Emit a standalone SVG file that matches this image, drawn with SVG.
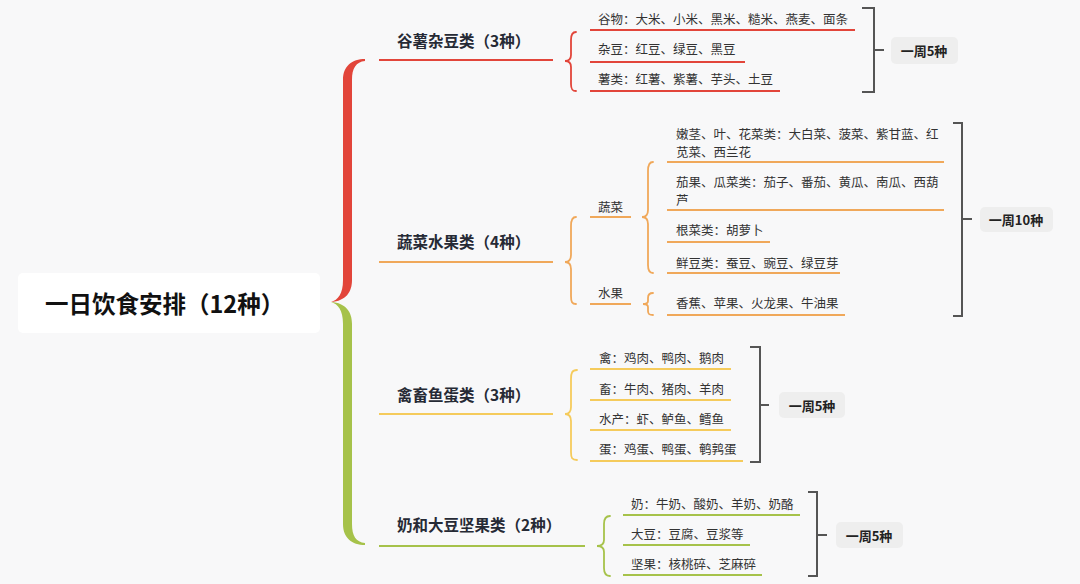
<svg xmlns="http://www.w3.org/2000/svg" width="1080" height="584" viewBox="0 0 1080 584">
<style>
text{font-family:"Noto Sans CJK SC","Noto Sans",sans-serif;dominant-baseline:central}
.root{font-size:23.5px;font-weight:700;fill:#111}
.cat{font-size:15.5px;font-weight:700;fill:#262a35}
.sub{font-size:12.5px;fill:#333}
.sum{font-size:13px;font-weight:700;fill:#222;text-anchor:middle}
.ln{fill:none;stroke-width:2}
.br{fill:none;stroke-width:1.8;stroke-linecap:round}
.bk{fill:none;stroke:#555;stroke-width:2}
.box{fill:#eeeeee}
.r{stroke:#e2453a}
.o{stroke:#f0a85a}
.y{stroke:#f5cb5c}
.g{stroke:#a6c24a}
</style>
<rect width="1080" height="584" fill="#f8f8f9"/>

<g id="connectors">
  <path d="M365,59 C352,59 343,66 343,80 L343,280 C343,294 338,300 331,302 C346,301 352,292 352,280 L352,80 C352,68 356,62 365,61 Z" fill="#e2453a"/>
  <path d="M331,302 C338,304 343,310 343,324 L343,524 C343,538 352,545 365,545 L365,543 C356,542 352,536 352,524 L352,324 C352,312 346,303 331,302 Z" fill="#a6c24a"/>
  <path class="ln r" d="M379,60 H553"/>
  <path class="ln o" d="M379,262 H553"/>
  <path class="ln y" d="M379,414 H553"/>
  <path class="ln g" d="M379,546 H585"/>
  <!-- cat1 -->
  <path class="br r" d="M576,32 C572,32 571,35 571,40 L571,55 C571,59 569,61 565,61 C569,61 571,63 571,67 L571,84 C571,89 572,91 576,91"/>
  <path class="ln r" d="M590,30 H855 M590,62 H745 M590,91 H780"/>
  <path class="bk" d="M862,8 H874 V92 H862 M874,50 H884"/>
  <!-- cat2 -->
  <path class="br o" d="M576,217 C572,217 571,220 571,226 L571,255 C571,259 569,262 565,262 C569,262 571,265 571,269 L571,296 C571,302 572,304 576,304"/>
  <path class="ln o" d="M590,217 H631 M590,304 H631"/>
  <path class="br o" d="M653,162 C649,162 648,165 648,171 L648,210 C648,214 646,217 642,217 C646,217 648,220 648,224 L648,265 C648,270 649,273 653,273"/>
  <path class="br o" d="M653,293 C649,293 648,295 648,298 L648,301 C648,303 646,304 643,304 C646,304 648,305 648,307 L648,311 C648,314 649,315 653,315"/>
  <path class="ln o" d="M667,162 H944 M667,210 H944 M667,242 H770 M667,273 H840 M667,315 H845"/>
  <path class="bk" d="M953,123 H962 V316 H953 M962,219 H972"/>
  <!-- cat3 -->
  <path class="br y" d="M577,370 C572,370 571,373 571,379 L571,407 C571,411 569,414 565,414 C569,414 571,417 571,421 L571,452 C571,458 572,460 577,460"/>
  <path class="ln y" d="M590,369 H731 M590,400 H731 M590,430 H731 M590,461 H743"/>
  <path class="bk" d="M750,347 H760 V462 H750 M760,405 H769"/>
  <!-- cat4 -->
  <path class="br g" d="M610,516 C606,516 604,519 604,524 L604,540 C604,544 601,546 597,546 C601,546 604,548 604,552 L604,568 C604,573 606,576 610,576"/>
  <path class="ln g" d="M623,515 H800 M623,545 H750 M623,575 H762"/>
  <path class="bk" d="M808,492 H817 V576 H808 M817,535 H827"/>
</g>

<g id="root">
  <rect x="18" y="273" width="302" height="60" rx="5" fill="#ffffff"/>
  <text class="root" x="45" y="303">一日饮食安排（12种）</text>
</g>

<g id="cat1">
  <text class="cat" x="397" y="40">谷薯杂豆类（3种）</text>
  <text class="sub" x="598" y="18">谷物：大米、小米、黑米、糙米、燕麦、面条</text>
  <text class="sub" x="598" y="48">杂豆：红豆、绿豆、黑豆</text>
  <text class="sub" x="598" y="78">薯类：红薯、紫薯、芋头、土豆</text>
  <rect class="box" x="891" y="37" width="67" height="27" rx="5"/>
  <text class="sum" x="924" y="50">一周5种</text>
</g>

<g id="cat2">
  <text class="cat" x="397" y="241">蔬菜水果类（4种）</text>
  <text class="sub" x="598" y="206">蔬菜</text>
  <text class="sub" x="598" y="292">水果</text>
  <text class="sub" x="676" y="133">嫩茎、叶、花菜类：大白菜、菠菜、紫甘蓝、红</text>
  <text class="sub" x="676" y="151">苋菜、西兰花</text>
  <text class="sub" x="676" y="181">茄果、瓜菜类：茄子、番茄、黄瓜、南瓜、西葫</text>
  <text class="sub" x="676" y="199">芦</text>
  <text class="sub" x="676" y="229">根菜类：胡萝卜</text>
  <text class="sub" x="676" y="262">鲜豆类：蚕豆、豌豆、绿豆芽</text>
  <text class="sub" x="676" y="302">香蕉、苹果、火龙果、牛油果</text>
  <rect class="box" x="980" y="207" width="73" height="25" rx="5"/>
  <text class="sum" x="1016" y="219">一周10种</text>
</g>

<g id="cat3">
  <text class="cat" x="397" y="394">禽畜鱼蛋类（3种）</text>
  <text class="sub" x="599" y="357">禽：鸡肉、鸭肉、鹅肉</text>
  <text class="sub" x="599" y="388">畜：牛肉、猪肉、羊肉</text>
  <text class="sub" x="599" y="418">水产：虾、鲈鱼、鳕鱼</text>
  <text class="sub" x="599" y="448">蛋：鸡蛋、鸭蛋、鹌鹑蛋</text>
  <rect class="box" x="779" y="392" width="66" height="26" rx="5"/>
  <text class="sum" x="812" y="405">一周5种</text>
</g>

<g id="cat4">
  <text class="cat" x="397" y="524">奶和大豆坚果类（2种）</text>
  <text class="sub" x="631" y="503">奶：牛奶、酸奶、羊奶、奶酪</text>
  <text class="sub" x="631" y="533">大豆：豆腐、豆浆等</text>
  <text class="sub" x="631" y="563">坚果：核桃碎、芝麻碎</text>
  <rect class="box" x="836" y="522" width="67" height="26" rx="5"/>
  <text class="sum" x="869" y="535">一周5种</text>
</g>
</svg>
